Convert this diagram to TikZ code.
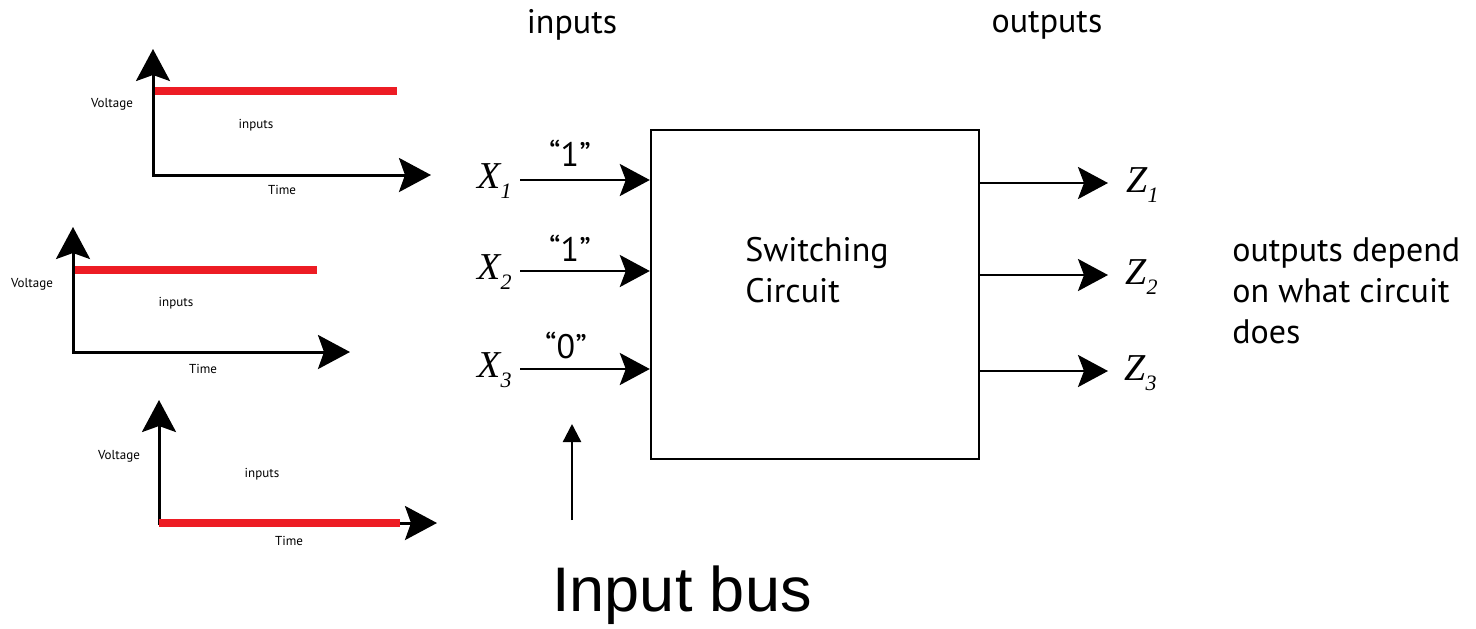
\documentclass[tikz,border=0pt]{standalone}
\usepackage{fontspec}
\usepackage{xcolor}
\usepackage{tikz}
\usetikzlibrary{arrows.meta,positioning}
\setmainfont{PT Sans}
\newfontfamily\timesfont{Liberation Serif}
\newfontfamily\busfont{Liberation Sans}
\definecolor{levelc}{HTML}{ED1C24}
\newcommand{\sig}[2]{{\timesfont\itshape #1\raisebox{-0.55ex}{\fontsize{11}{11}\selectfont #2}}}
\tikzset{
  plotlabel/.style={font=\fontsize{6.5}{7}\selectfont, inner sep=0pt},
  axisedge/.style={{Stealth[length=16pt, width=17pt, inset=3pt]}-{Stealth[length=16pt, width=17pt, inset=3pt]},
    draw=black, line width=1.5pt},
  levelline/.style={draw=levelc, line width=4pt},
  circuitbox/.style={rectangle, draw=black, line width=1.2pt, minimum width=164pt,
    minimum height=164.5pt, inner sep=0pt},
  sigedge/.style={-{Stealth[length=15pt, width=16pt, inset=3pt]}, draw=black, line width=1.4pt},
  busedge/.style={-{Triangle[length=9pt, width=9pt]}, draw=black, line width=1.2pt},
  signame/.style={font=\fontsize{19}{19}\selectfont, inner sep=0pt},
  bittext/.style={font=\fontsize{17}{17}\selectfont, inner sep=0pt},
  bigtext/.style={font=\fontsize{17}{20.5}\selectfont, inner sep=0pt, align=left},
}

\begin{document}
\begin{tikzpicture}[x=0.5pt, y=-0.5pt]
  \useasboundingbox (0,0) rectangle (1476,628);

  % voltage plots
  \coordinate (o1) at (153,175);
  \coordinate (v1) at (153,49);
  \coordinate (t1) at (431,175);
  \draw[levelline] (153,91) -- (397,91);
  \draw[axisedge] (v1) -- (o1) -- (t1);
  \node[plotlabel] (volt1) at (112,104) {Voltage};
  \node[plotlabel] (in1txt) at (256,125) {inputs};
  \node[plotlabel] (time1) at (282,190) {Time};

  \coordinate (o2) at (73,352);
  \coordinate (v2) at (73,227);
  \coordinate (t2) at (350,352);
  \draw[levelline] (73,270) -- (317,270);
  \draw[axisedge] (v2) -- (o2) -- (t2);
  \node[plotlabel] (volt2) at (32,284) {Voltage};
  \node[plotlabel] (in2txt) at (176,303) {inputs};
  \node[plotlabel] (time2) at (203,369) {Time};

  \coordinate (o3) at (159,523);
  \coordinate (v3) at (159,400);
  \coordinate (t3) at (437,523);
  \draw[axisedge] (v3) -- (o3) -- (t3);
  \draw[levelline] (159,523) -- (400,523);
  \node[plotlabel] (volt3) at (119,456) {Voltage};
  \node[plotlabel] (in3txt) at (262,474) {inputs};
  \node[plotlabel] (time3) at (289,541) {Time};

  % circuit
  \node[circuitbox] (box) at (815,294.5) {};
  \node[bigtext, anchor=west] (swlabel) at (745,270) {Switching\\Circuit};
  \node[bigtext] (intitle) at (572,25) {inputs};
  \node[bigtext] (outtitle) at (1047,25) {outputs};

  \coordinate (a1) at (520,180);
  \coordinate (a2) at (520,271);
  \coordinate (a3) at (520,369);
  \node[signame, anchor=east] (x1) at (512,181) {\sig{X}{1}};
  \node[signame, anchor=east] (x2) at (512,272) {\sig{X}{2}};
  \node[signame, anchor=east] (x3) at (512,370) {\sig{X}{3}};
  \draw[sigedge] (a1) -- (a1 -| box.west);
  \draw[sigedge] (a2) -- (a2 -| box.west);
  \draw[sigedge] (a3) -- (a3 -| box.west);
  \node[bittext] (b1) at (570,153) {“1”};
  \node[bittext] (b2) at (570,248) {“1”};
  \node[bittext] (b3) at (566,345) {“0”};

  \coordinate (z1end) at (1108,183);
  \coordinate (z2end) at (1108,275);
  \coordinate (z3end) at (1108,371);
  \draw[sigedge] (z1end -| box.east) -- (z1end);
  \draw[sigedge] (z2end -| box.east) -- (z2end);
  \draw[sigedge] (z3end -| box.east) -- (z3end);
  \node[signame, anchor=west] (z1) at (1126,185) {\sig{Z}{1}};
  \node[signame, anchor=west] (z2) at (1125,277) {\sig{Z}{2}};
  \node[signame, anchor=west] (z3) at (1124,373) {\sig{Z}{3}};
  \node[bigtext, anchor=west] (note) at (1232,291) {outputs depend\\on what circuit\\does};

  % input bus
  \coordinate (busfoot) at (572,520);
  \coordinate (bustip) at (572,424);
  \draw[busedge] (busfoot) -- (bustip);
  \node[font=\busfont\fontsize{31.5}{31.5}\selectfont, inner sep=0pt] (bus) at (682,595) {Input bus};
\end{tikzpicture}
\end{document}
